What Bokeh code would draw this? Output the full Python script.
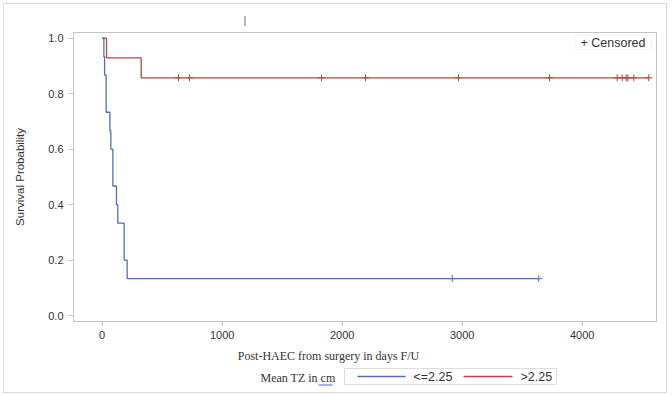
from bokeh.plotting import figure
from bokeh.layouts import column
from bokeh.models import Range1d, FixedTicker, PrintfTickFormatter, BoxAnnotation, Label
from bokeh.core.properties import value
from bokeh.embed import file_html
from bokeh.resources import INLINE

# Kaplan-Meier estimates, Mean TZ <= 2.25 cm
low_times = [0, 14, 20, 33, 64, 72, 89, 119, 130, 183, 208]
low_surv = [1.0, 0.933, 0.867, 0.733, 0.667, 0.600, 0.467, 0.400, 0.333, 0.200, 0.133]
low_censored = [2917, 3638]

# Kaplan-Meier estimates, Mean TZ > 2.25 cm
high_times = [0, 36, 325]
high_surv = [1.0, 0.929, 0.857]
high_censored = [636, 728, 1828, 2194, 2969, 3728, 4291, 4333, 4366, 4380, 4430, 4555]

x_ticks = [0, 1000, 2000, 3000, 4000]
y_ticks = [0.0, 0.2, 0.4, 0.6, 0.8, 1.0]

group_labels = ["<=2.25", ">2.25"]
group_title = "Mean TZ in cm"
x_title = "Post-HAEC from surgery in days F/U"

BLUE = "#5470b0"
RED = "#b5473a"
FRAME = "#c4c4c4"
TEXT = "#333333"
SANS = "Liberation Sans"
SERIF = "Liberation Serif"

W = 672
H_MAIN, H_KEY = 345, 50
FL, FR, FT, FB = 73, 656, 32, 321   # plot frame edges

p = figure(width=W, height=H_MAIN, output_backend="svg", toolbar_location=None,
           x_range=Range1d(-239, 4619), y_range=Range1d(-0.0216, 1.0205),
           min_border_left=FL, min_border_right=W - FR,
           min_border_top=FT, min_border_bottom=H_MAIN - FB)
p.background_fill_color = "white"
p.border_fill_color = None
p.outline_line_color = FRAME
p.grid.visible = False

# small mark above the frame
p.title.text = "|"
p.title.align = "left"
p.title.offset = 245 - FL - 2
p.title.text_font = SANS
p.title.text_font_size = "11px"
p.title.text_font_style = "normal"
p.title.text_color = "#666666"
p.title.standoff = 13

for ax in (p.xaxis[0], p.yaxis[0]):
    ax.axis_line_color = FRAME
    ax.major_tick_line_color = FRAME
    ax.minor_tick_line_color = None
    ax.major_tick_out = 5
    ax.major_tick_in = 0
    ax.major_label_text_color = TEXT
    ax.major_label_text_font = SANS
    ax.major_label_text_font_size = "11px"

p.xaxis.ticker = FixedTicker(ticks=x_ticks)
p.xaxis.formatter = PrintfTickFormatter(format="%d")
p.xaxis.major_label_standoff = 4
p.yaxis.ticker = FixedTicker(ticks=y_ticks)
p.yaxis.formatter = PrintfTickFormatter(format="%.1f")
p.yaxis.major_label_standoff = 5
p.yaxis.axis_label = "Survival Probability"
p.yaxis.axis_label_text_font = SANS
p.yaxis.axis_label_text_font_size = "11.5px"
p.yaxis.axis_label_text_font_style = "normal"
p.yaxis.axis_label_text_color = TEXT
p.yaxis.axis_label_standoff = 19

# survival step curves, extended to the last censored time
p.step(low_times + [low_censored[-1]], low_surv + [low_surv[-1]],
       mode="after", line_color=BLUE, line_width=1.3)
p.step(high_times + [high_censored[-1]], high_surv + [high_surv[-1]],
       mode="after", line_color=RED, line_width=1.3)

# censoring marks
p.scatter(low_censored, [low_surv[-1]] * len(low_censored), marker="cross",
          size=7, line_color=BLUE, line_width=1)
p.scatter(high_censored, [high_surv[-1]] * len(high_censored), marker="cross",
          size=7, line_color=RED, line_width=1)

# censored key in the top right corner (frame pixel offsets)
p.add_layout(BoxAnnotation(left=575 - FL, right=651 - FL, top=FB - 35, bottom=FB - 49,
                           left_units="screen", right_units="screen",
                           top_units="screen", bottom_units="screen",
                           fill_color="white", fill_alpha=1,
                           line_color="#dddddd", line_width=1))
p.add_layout(Label(x=580 - FL, y=FB - 42, x_units="screen", y_units="screen",
                   text="+ Censored", text_font=SANS, text_font_size="12.5px",
                   text_color=TEXT, text_align="left", text_baseline="middle"))

# strip under the plot: x axis title and group key, in pixel coordinates
k = figure(width=W, height=H_KEY, output_backend="svg", toolbar_location=None,
           x_range=Range1d(FL, FR), y_range=Range1d(H_MAIN + H_KEY, H_MAIN),
           x_axis_type=None, y_axis_type=None,
           min_border_left=FL, min_border_right=W - FR,
           min_border_top=0, min_border_bottom=0)
k.outline_line_color = None
k.grid.visible = False
k.background_fill_color = None
k.border_fill_color = None

k.text(x=[328], y=[355], text=[x_title], text_font=value(SERIF),
       text_font_size="12px", text_color=TEXT, text_align="center",
       text_baseline="middle")
k.text(x=[260], y=[377], text=[group_title], text_font=value(SERIF),
       text_font_size="12px", text_color=TEXT, text_align="left",
       text_baseline="middle")
k.segment(x0=[318], y0=[384.5], x1=[332], y1=[384.5], line_color="#3a6fd8",
          line_width=1.2)
k.quad(left=[344], right=[556], top=[368], bottom=[384], fill_color=None,
       line_color="#dddddd", line_width=1)
k.segment(x0=[357, 463], y0=[376, 376], x1=[405, 512], y1=[376, 376],
          line_color=[BLUE, RED], line_width=1.3)
k.text(x=[413, 520], y=[376, 376], text=group_labels, text_font=value(SANS),
       text_font_size="12.5px", text_color=TEXT, text_align="left",
       text_baseline="middle")

# thin outer border drawn as the page background behind the transparent canvases
edge = "linear-gradient(#d9d9d9, #d9d9d9)"
border_bg = ", ".join([
    f"{edge} 3px 3px / 664px 1px no-repeat",
    f"{edge} 3px 392px / 664px 1px no-repeat",
    f"{edge} 3px 3px / 1px 390px no-repeat",
    f"{edge} 666px 3px / 1px 390px no-repeat",
    "white",
])
page = column(p, k, spacing=0, styles={"background": border_bg})

open("out.html", "w").write(file_html(page, INLINE))
